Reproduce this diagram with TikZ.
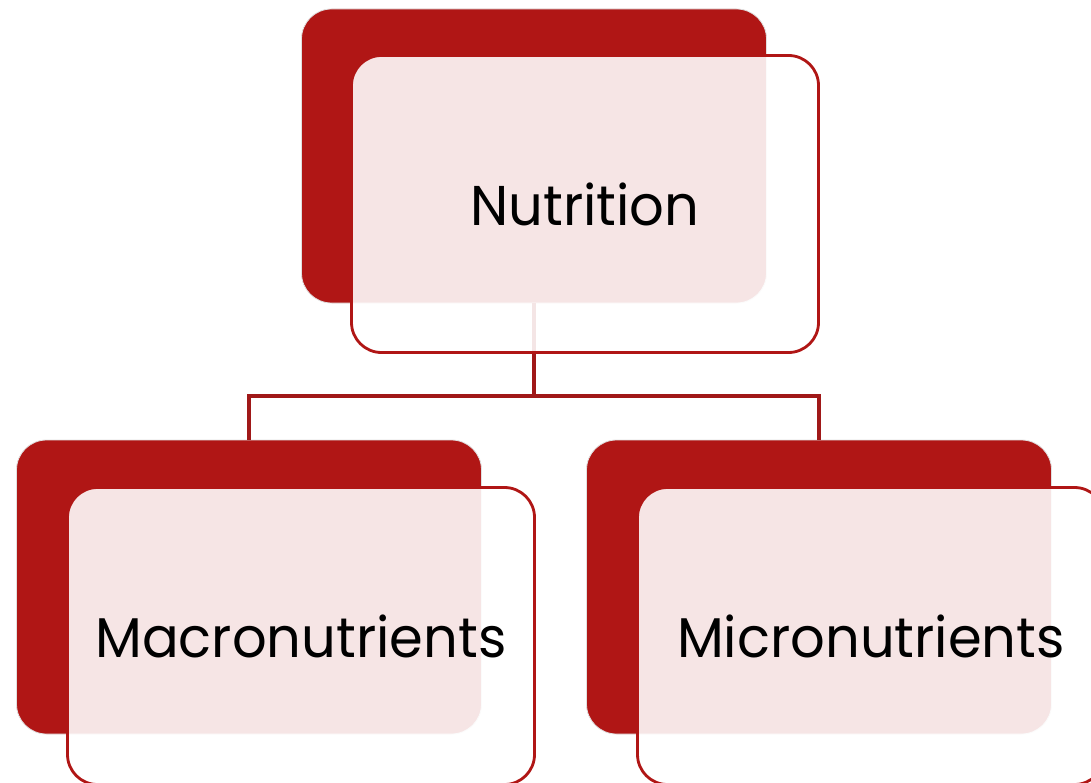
\documentclass[tikz,border=0pt]{standalone}
\usepackage{fontspec}
\setmainfont{Poppins}
\definecolor{boxred}{HTML}{B01615}
\definecolor{linered}{HTML}{A01818}
\tikzset{
  backbox/.style={rectangle, rounded corners=30pt, fill=boxred, draw=black!12, line width=0.8pt,
    minimum width=465pt, minimum height=294pt, inner sep=0pt},
  frontbox/.style={rectangle, rounded corners=30pt, fill=white, fill opacity=0.89, text opacity=1,
    draw=boxred, line width=2.8pt, minimum width=467pt, minimum height=297pt, inner sep=0pt,
    font=\fontsize{56}{64}\selectfont, text=black},
  conn/.style={draw=linered, line width=3.2pt}
}
\begin{document}
\begin{tikzpicture}[x=1pt,y=-1pt]
\useasboundingbox (0,0) rectangle (1091,783);
\clip (0,0) rectangle (1091,783);
\fill[white] (0,0) rectangle (1091,783);
% back boxes
\node[backbox] (topback) at (534,156) {};
\node[backbox] (leftback) at (249,587) {};
\node[backbox] (rightback) at (819,587) {};
% connectors
\coordinate (bus) at (534,396);
\draw[conn] (topback.south) -- (bus);
\draw[conn] (bus) -| (leftback.north);
\draw[conn] (bus) -| (rightback.north);
% front boxes
\node[frontbox] (nutrition) at (585,204) {\scalebox{0.97}[1]{Nutrition}};
\node[frontbox] (macro) at (301,636) {\scalebox{0.97}[1]{Macronutrients}};
\node[frontbox] (micro) at (871,636) {\scalebox{0.97}[1]{Micronutrients}};
\end{tikzpicture}
\end{document}
